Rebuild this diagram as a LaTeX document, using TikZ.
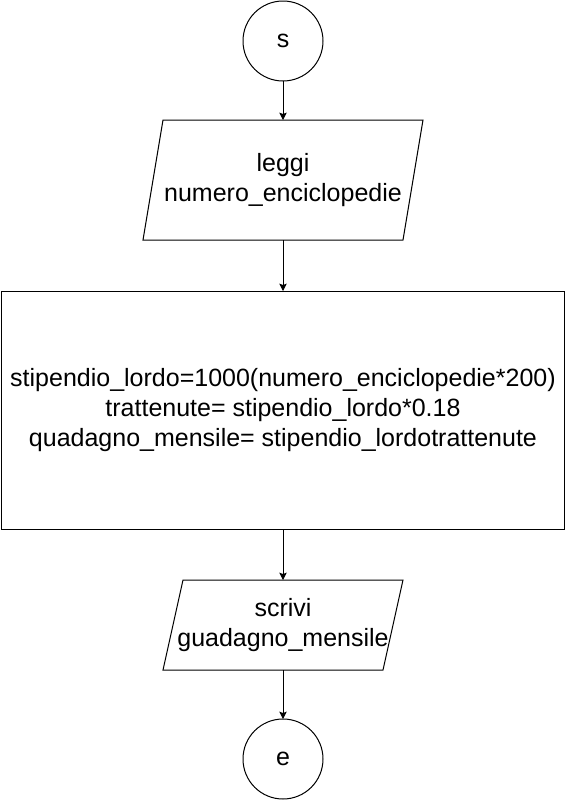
\documentclass[tikz,border=0pt]{standalone}
\usepackage{fontspec}
\setmainfont{Liberation Sans}
\usetikzlibrary{arrows.meta}
\begin{document}
\begin{tikzpicture}[x=0.75pt,y=-0.75pt,
  every node/.style={font=\fontsize{18.75}{22.5}\selectfont, align=center, outer sep=0pt, inner sep=0pt},
  term/.style={circle, draw, line width=0.75pt, minimum size=60pt},
  iobox/.style={rectangle, draw=none},
  procbox/.style={rectangle, draw, line width=0.75pt},
  para/.style={line width=0.75pt, line join=miter},
  arr/.style={line width=0.75pt, -{Stealth[length=5.5pt,width=5.5pt,inset=1pt]}}]
\useasboundingbox (0,0) rectangle (566,801);
\node[term] (s) at (283,41) {s};
\node[iobox, minimum width=210pt, minimum height=90pt] (p1) at (283,180) {leggi\\numero\_enciclopedie};
\draw[para] ([xshift=15pt]p1.north west) -- (p1.north east) -- ([xshift=-15pt]p1.south east) -- (p1.south west) -- cycle;
\node[procbox, minimum width=422.25pt, minimum height=178.5pt] (r) at (283,410) {stipendio\_lordo=1000(numero\_enciclopedie*200)\\trattenute= stipendio\_lordo*0.18\\quadagno\_mensile= stipendio\_lordotrattenute};
\node[iobox, minimum width=180pt, minimum height=67.5pt] (p2) at (283,625) {scrivi\\guadagno\_mensile};
\draw[para] ([xshift=15pt]p2.north west) -- (p2.north east) -- ([xshift=-15pt]p2.south east) -- (p2.south west) -- cycle;
\node[term] (e) at (283,759) {e};
\draw[arr] (s) -- (p1);
\draw[arr] (p1) -- (r);
\draw[arr] (r) -- (p2);
\draw[arr] (p2) -- (e);
\end{tikzpicture}
\end{document}
